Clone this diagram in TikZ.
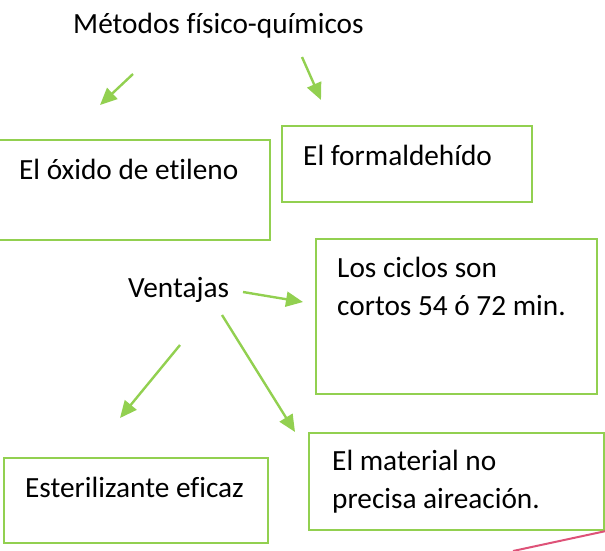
\documentclass[tikz,border=0pt]{standalone}
\usepackage{fontspec}
\setmainfont[Ligatures=NoCommon]{Carlito}
\usetikzlibrary{arrows.meta}
\definecolor{lgreen}{RGB}{146,208,80}
\definecolor{pinkline}{RGB}{222,82,120}
\begin{document}
\begin{tikzpicture}[x=1pt,y=-1pt,
  boxstyle/.style={draw=lgreen,line width=1.8pt},
  txt/.style={anchor=base west,inner sep=0pt,font=\fontsize{29.3}{38}\selectfont,align=left},
  arr/.style={draw=lgreen,line width=2.4pt,-{Triangle[length=17pt,width=15pt]}}]
\useasboundingbox (0,0) rectangle (605,550);
% boxes
\draw[boxstyle] (-3,140) rectangle (270,240);
\draw[boxstyle] (282,126) rectangle (532,202);
\draw[boxstyle] (316,239) rectangle (597,394);
\draw[boxstyle] (4,458) rectangle (268,543);
\draw[boxstyle] (309,433) rectangle (604,530);
% texts
\node[txt] (title) at (73,33) {Métodos físico-químicos};
\node[txt] (oxido) at (19,179) {El óxido de etileno};
\node[txt] (formal) at (303,165) {El formaldehído};
\node[txt] (vent) at (128,297) {Ventajas};
\node[txt] (ciclos) at (337,315) {Los ciclos son\\cortos 54 ó 72 min.};
\node[txt] (ester) at (25,497) {Esterilizante eficaz};
\node[txt] (mat) at (332,508) {El material no\\precisa aireación.};
% arrows
\coordinate (a1s) at (133,74); \coordinate (a1e) at (100,105);
\coordinate (a2s) at (302,57); \coordinate (a2e) at (321,100);
\coordinate (a3s) at (243,292); \coordinate (a3e) at (303,302);
\coordinate (a4s) at (180,345); \coordinate (a4e) at (120,418);
\coordinate (a5s) at (222,315); \coordinate (a5e) at (295,432);
\draw[arr] (a1s) -- (a1e);
\draw[arr] (a2s) -- (a2e);
\draw[arr] (a3s) -- (a3e);
\draw[arr] (a4s) -- (a4e);
\draw[arr] (a5s) -- (a5e);
% pink line
\coordinate (p1) at (606,531); \coordinate (p2) at (513,551);
\draw[pinkline,line width=2pt] (p1) -- (p2);
\end{tikzpicture}
\end{document}
